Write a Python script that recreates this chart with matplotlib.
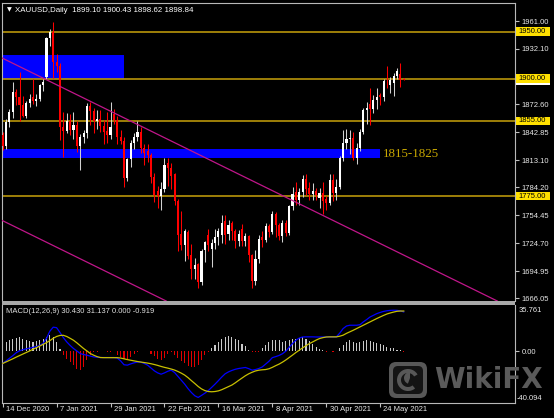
import matplotlib
matplotlib.use("Agg")
import matplotlib.pyplot as plt
import matplotlib.transforms as mtransforms
from matplotlib.patches import Rectangle, FancyBboxPatch, Wedge

# Velas diarias XAUUSD (14 dic 2020 - 2 jun 2021)
opens = [1840, 1828, 1854, 1864, 1886, 1881, 1872, 1860, 1874, 1881,
         1876, 1878, 1893, 1902, 1943, 1950, 1918, 1913, 1849, 1844,
         1855, 1845, 1851, 1828, 1838, 1842, 1871, 1866, 1855, 1857,
         1850, 1844, 1840, 1862, 1856, 1838, 1834, 1794, 1814, 1831,
         1838, 1843, 1826, 1823, 1819, 1795, 1780, 1775, 1782, 1810,
         1805, 1798, 1770, 1735, 1723, 1737, 1712, 1697, 1703, 1683,
         1718, 1734, 1719, 1725, 1731, 1733, 1748, 1735, 1746, 1738,
         1727, 1740, 1727, 1732, 1712, 1685, 1708, 1731, 1728, 1743,
         1737, 1756, 1744, 1732, 1746, 1736, 1764, 1779, 1771, 1779,
         1793, 1784, 1777, 1780, 1773, 1778, 1772, 1768, 1792, 1778,
         1785, 1815, 1831, 1836, 1837, 1815, 1826, 1843, 1867, 1873,
         1868, 1877, 1883, 1880, 1898, 1893, 1895, 1903, 1905, 1899.10]
highs = [1843, 1857, 1868, 1896, 1889, 1907, 1882, 1876, 1884, 1900,
         1884, 1894, 1900, 1944, 1953, 1960, 1926, 1917, 1864, 1863,
         1862, 1865, 1855, 1841, 1845, 1874, 1875, 1869, 1867, 1867,
         1856, 1865, 1875, 1868, 1860, 1845, 1838, 1816, 1835, 1842,
         1855, 1848, 1830, 1830, 1821, 1800, 1786, 1790, 1816, 1816,
         1810, 1800, 1772, 1759, 1740, 1739, 1724, 1709, 1704, 1719,
         1727, 1740, 1729, 1740, 1741, 1755, 1755, 1750, 1748, 1740,
         1739, 1745, 1736, 1733, 1713, 1718, 1733, 1738, 1746, 1745,
         1759, 1758, 1746, 1749, 1750, 1765, 1785, 1790, 1784, 1797,
         1798, 1790, 1789, 1784, 1784, 1790, 1775, 1798, 1799, 1793,
         1818, 1845, 1846, 1845, 1843, 1831, 1846, 1869, 1875, 1890,
         1883, 1890, 1885, 1900, 1913, 1902, 1906, 1911, 1917, 1900.43]
lows = [1824, 1825, 1848, 1858, 1872, 1855, 1859, 1858, 1870, 1873,
        1871, 1876, 1887, 1900, 1935, 1901, 1907, 1835, 1817, 1842,
        1840, 1836, 1822, 1803, 1831, 1837, 1851, 1842, 1846, 1843,
        1830, 1832, 1836, 1852, 1830, 1830, 1785, 1791, 1806, 1825,
        1834, 1821, 1808, 1811, 1789, 1769, 1762, 1760, 1779, 1786,
        1782, 1765, 1716, 1717, 1706, 1708, 1687, 1687, 1677, 1680,
        1705, 1716, 1699, 1719, 1723, 1725, 1724, 1728, 1728, 1720,
        1722, 1722, 1722, 1705, 1677, 1680, 1704, 1721, 1726, 1731,
        1735, 1731, 1728, 1726, 1732, 1734, 1760, 1765, 1765, 1774,
        1776, 1771, 1771, 1771, 1762, 1756, 1760, 1765, 1770, 1771,
        1782, 1812, 1825, 1820, 1813, 1809, 1823, 1841, 1852, 1851,
        1863, 1868, 1872, 1876, 1890, 1885, 1882, 1900, 1891, 1898.62]
closes = [1828, 1854, 1864, 1886, 1881, 1872, 1860, 1874, 1878, 1876,
          1878, 1893, 1896, 1943, 1950, 1918, 1913, 1849, 1844, 1855,
          1845, 1851, 1828, 1838, 1842, 1871, 1866, 1855, 1857, 1850,
          1843, 1840, 1848, 1856, 1838, 1834, 1794, 1814, 1831, 1838,
          1843, 1826, 1821, 1819, 1795, 1776, 1775, 1782, 1808, 1805,
          1796, 1770, 1733, 1723, 1738, 1711, 1697, 1702, 1683, 1716,
          1726, 1723, 1725, 1731, 1738, 1746, 1734, 1744, 1738, 1727,
          1735, 1727, 1732, 1712, 1685, 1708, 1729, 1728, 1743, 1737,
          1756, 1744, 1732, 1746, 1736, 1764, 1777, 1771, 1779, 1793,
          1783, 1777, 1780, 1776, 1778, 1770, 1768, 1792, 1778, 1785,
          1815, 1831, 1836, 1837, 1815, 1826, 1843, 1867, 1869, 1868,
          1877, 1881, 1880, 1898, 1897, 1899, 1903, 1908, 1899, 1898.84]

# MACD(12,26,9): linea principal (azul), senal (amarilla) e histograma
macd_main = [-9.5, -7.5, -5.5, -3.5, -1.2, 0.3, 1.2, 1.8, 2.4, 3.0,
             3.6, 4.5, 6.0, 10.0, 15.5, 18.6, 18.2, 14.5, 10.5, 7.2,
             4.5, 2.1, 0.2, -1.8, -2.6, -3.1, -3.8, -4.4, -4.7, -4.9,
             -4.9, -4.9, -4.9, -4.9, -5.3, -7.5, -10.5, -10.8, -9.8, -9.0,
             -8.4, -8.5, -9.5, -10.8, -13.0, -15.2, -16.8, -17.8, -16.8, -15.5,
             -14.7, -16.5, -19.5, -22.5, -25.5, -29.0, -32.0, -34.5, -35.8, -34.2,
             -32.5, -30.5, -28.0, -25.5, -22.8, -20.0, -17.5, -16.0, -14.9, -14.0,
             -13.4, -13.0, -12.6, -13.5, -14.7, -14.2, -13.4, -12.2, -10.0, -7.8,
             -5.0, -4.2, -3.3, -2.0, 0.0, 3.0, 6.0, 8.5, 10.2, 11.0,
             11.1, 11.1, 11.1, 11.0, 11.0, 11.0, 11.0, 11.0, 11.0, 11.1,
             14.0, 17.5, 19.5, 20.1, 20.1, 20.1, 20.5, 22.7, 24.5, 26.5,
             27.8, 29.1, 30.0, 30.8, 31.3, 31.6, 31.7, 31.6, 31.2, 30.4]
macd_signal = [-9.5, -8.3, -7.1, -5.9, -4.6, -3.4, -2.2, -1.0, 0.2, 1.5,
               2.7, 4.0, 5.3, 6.6, 8.2, 10.0, 11.4, 12.2, 12.3, 11.4,
               10.0, 8.5, 6.5, 4.3, 2.1, 0.2, -1.8, -3.1, -4.2, -4.9,
               -5.0, -5.0, -5.0, -5.0, -5.0, -5.3, -5.9, -6.5, -7.0, -7.5,
               -8.0, -8.4, -8.8, -9.2, -9.7, -10.3, -11.0, -11.8, -12.5, -13.1,
               -13.8, -14.6, -15.7, -17.0, -18.5, -20.5, -22.8, -25.0, -27.3, -29.2,
               -30.5, -31.2, -31.4, -31.2, -30.7, -29.8, -28.6, -27.4, -26.2, -24.5,
               -22.6, -20.8, -19.0, -17.5, -16.3, -15.3, -14.7, -14.4, -14.2, -13.6,
               -12.5, -11.2, -10.0, -8.5, -6.8, -4.9, -3.0, -1.0, 0.8, 2.6,
               4.3, 5.9, 7.2, 8.6, 9.8, 10.5, 11.0, 11.1, 11.1, 11.1,
               11.6, 12.4, 13.8, 15.0, 16.2, 17.5, 18.8, 20.1, 21.4, 22.7,
               24.0, 25.3, 26.5, 27.7, 28.8, 29.6, 30.3, 30.9, 31.1, 31.1]
macd_hist = [6.5, 7.2, 8.5, 9.8, 10.3, 11.1, 9.8, 8.5, 8.0, 7.2,
             8.0, 8.5, 9.8, 11.1, 12.4, 11.1, 7.2, 2.0, -3.1, -5.7,
             -8.2, -10.8, -14.1, -14.7, -12.1, -7.0, -3.1, -0.5, -0.5, 0.3,
             0.3, -0.5, -0.5, 0.2, -3.1, -4.4, -5.7, -6.4, -4.4, -1.8,
             -0.5, 0.2, 0.2, -0.2, -1.8, -3.9, -5.7, -7.0, -4.9, -1.8,
             -0.5, -3.1, -4.9, -7.5, -9.5, -11.3, -12.1, -12.6, -10.8, -7.0,
             -3.1, -0.5, 2.1, 4.6, 7.2, 9.8, 11.1, 11.6, 11.1, 9.8,
             8.5, 5.9, 3.9, 1.3, -0.5, -0.5, -0.8, 2.1, 4.6, 7.2,
             8.5, 9.0, 8.5, 7.2, 8.0, 8.5, 9.3, 9.8, 10.0, 11.1,
             9.8, 8.0, 5.4, 3.3, 1.8, 0.8, -0.3, 0.1, -0.3, 0.3,
             2.1, 4.6, 7.2, 8.5, 7.2, 6.4, 7.2, 8.0, 8.5, 8.0,
             7.2, 6.4, 5.9, 4.6, 3.3, 2.6, 2.1, 1.3, 0.8, -0.9]

date_ticks = [0, 16, 32, 48, 64, 80, 96, 112]
date_labels = ["14 Dec 2020", "7 Jan 2021", "29 Jan 2021", "22 Feb 2021",
               "16 Mar 2021", "8 Apr 2021", "30 Apr 2021", "24 May 2021"]
price_ticks = [1961.00, 1932.10, 1872.60, 1842.85, 1813.10,
               1784.20, 1754.45, 1724.70, 1694.95, 1666.05]
levels = [1950, 1900, 1855, 1775]
zones = [(36, 1900, 1925), (112, 1815, 1825)]   # (barra final, precio bajo, precio alto)
zone_label = "1815-1825"
trend_upper = [(0, 1921.7), (146, 1664.5)]
trend_lower = [(0, 1748.7), (40, 1678.2)]
title = "XAUUSD,Daily  1899.10 1900.43 1898.62 1898.84"
macd_title = "MACD(12,26,9) 30.430 31.137 0.000 -0.919"
last_price = 1898.84

# ---- figura ----
W, H = 554, 418
FONT = "Liberation Sans"
FS = 5.5
fig = plt.figure(figsize=(W / 100, H / 100), dpi=100, facecolor="black")
pix = mtransforms.Affine2D().scale(1 / W, -1 / H).translate(0, 1) + fig.transFigure


def box(x0, y0, x1, y1):
    return [x0 / W, 1 - y1 / H, (x1 - x0) / W, (y1 - y0) / H]


ymin, ymax = 1663.2, 1980.6
ax = fig.add_axes(box(2, 3, 515, 301))
ax2 = fig.add_axes(box(2, 305, 515, 403))
for a in (ax, ax2):
    a.set_facecolor("black")
    a.set_xlim(-0.2, 152.0)
    for s in a.spines.values():
        s.set_color("#b8b8b8")
        s.set_linewidth(0.8)
ax.spines["bottom"].set_visible(False)
ax2.spines["top"].set_visible(False)
ax.set_ylim(ymin, ymax)
ax2.set_ylim(-40.094, 35.761)

x = list(range(len(closes)))

# zonas azules (fondo)
for x1, lo, hi in zones:
    ax.add_patch(Rectangle((-0.2, lo), x1 + 0.2, hi - lo, color="#0000ff", lw=0, zorder=1))
ax.text(zones[1][0] + 0.8, (zones[1][1] + zones[1][2]) / 2, zone_label,
        family="Liberation Serif", fontsize=9.4, color="#c9a800", va="center", ha="left", zorder=5)

# niveles horizontales
for lv in levels:
    ax.axhline(lv, color="#b8960a", lw=1.2, zorder=2)

# velas
up = [c >= o for o, c in zip(opens, closes)]
wick_col = ["#d0d0d0" if u else "#ff0000" for u in up]
body_col = ["#ffffff" if u else "#ff0000" for u in up]
ax.vlines(x, lows, highs, colors=wick_col, lw=0.75, zorder=3)
bottoms = [min(o, c) for o, c in zip(opens, closes)]
heights = [max(abs(c - o), 0.9) for o, c in zip(opens, closes)]
ax.bar(x, heights, bottom=bottoms, width=0.62, color=body_col, lw=0, zorder=4)

# lineas de tendencia (canal)
for p in (trend_upper, trend_lower):
    ax.axline(p[0], p[1], color="#c0168a", lw=0.9, zorder=5)

# eje de precios a la derecha
ax.yaxis.tick_right()
ax.set_yticks(price_ticks)
ax.set_yticklabels(["%.2f" % v for v in price_ticks])
ax.tick_params(axis="y", colors="#c0c0c0", labelcolor="#e8e8e8", length=3, width=0.8,
               pad=1.5, labelsize=FS, labelfontfamily=FONT)
ax.set_xticks([])

# etiquetas de niveles (amarillas) y precio actual (blanca)
ppu = 298 / (ymax - ymin)


def ypx(v):
    return 3 + (ymax - v) * ppu


fig.add_artist(Rectangle((516, ypx(last_price) - 4.2), 34, 9, transform=pix, fc="white", lw=0, zorder=6))
for lv in levels:
    yc = ypx(lv)
    fig.add_artist(Rectangle((516, yc - 4.3), 34, 8.6, transform=pix, fc="#ffe000", lw=0, zorder=7))
    fig.text(518.5, yc, "%.2f" % lv, transform=pix, fontsize=FS, family=FONT, color="black",
             va="center", ha="left", zorder=8)

# MACD
hist_col = ["#c8c8c8" if v >= 0 else "#e00000" for v in macd_hist]
ax2.bar(x, macd_hist, width=0.32, color=hist_col, lw=0, zorder=2)
ax2.plot(x, macd_main, color="#0000ff", lw=0.9, zorder=3)
ax2.plot(x, macd_signal, color="#c8c000", lw=0.9, zorder=3)
ax2.yaxis.tick_right()
ax2.set_yticks([0.0])
ax2.set_yticklabels(["0.00"])
ax2.tick_params(axis="y", colors="#c0c0c0", labelcolor="#e8e8e8", length=3, width=0.8,
                pad=1.5, labelsize=FS, labelfontfamily=FONT)
ax2.set_xticks(date_ticks)
ax2.set_xticklabels([])
ax2.tick_params(axis="x", colors="#c0c0c0", length=3, width=0.8, direction="out")

# separador entre paneles
fig.add_artist(Rectangle((2, 301), 513, 4, transform=pix, fc="#a8a8a8", lw=0, zorder=5))

# marca de agua WikiFX: cuadro redondeado con el aguila y el texto
fig.add_artist(FancyBboxPatch((389, 362), 38, 36, boxstyle="round,pad=0,rounding_size=7",
                              transform=pix, fc="#585858", ec="none", zorder=1))
fig.add_artist(FancyBboxPatch((393, 366), 30, 28, boxstyle="round,pad=0,rounding_size=5",
                              transform=pix, fc="#141414", ec="none", zorder=1))
fig.add_artist(Wedge((408, 380), 11, 50, 330, width=4, transform=pix, fc="#585858", ec="none", zorder=1))
fig.add_artist(Wedge((410, 378), 6, 110, 270, transform=pix, fc="#585858", ec="none", zorder=1))
fig.text(434, 380, "WikiFX", transform=pix, fontsize=20, family="DejaVu Sans", fontweight="bold",
         color="#5a5a5a", va="center", ha="left", zorder=1)

# textos
fig.text(7, 10, "\u25bc", transform=pix, fontsize=4.5, family="DejaVu Sans", color="white",
         va="center", ha="left")
fig.text(15, 10, title, transform=pix, fontsize=5.7, family=FONT, color="white", va="center", ha="left")
fig.text(6, 311.5, macd_title, transform=pix, fontsize=FS, family=FONT, color="#e0e0e0",
         va="center", ha="left")
fig.text(519, 310, "35.761", transform=pix, fontsize=FS, family=FONT, color="#e8e8e8",
         va="center", ha="left", zorder=8)
fig.text(517, 398, "-40.094", transform=pix, fontsize=FS, family=FONT, color="#e8e8e8",
         va="center", ha="left", zorder=8)

date_tr = mtransforms.blended_transform_factory(ax2.transData, fig.transFigure) + \
    mtransforms.ScaledTranslation(3.3 / 100, 0, fig.dpi_scale_trans)
for t, lab in zip(date_ticks, date_labels):
    ax2.text(t, 1 - 409.5 / H, lab, transform=date_tr, fontsize=FS, family=FONT,
             color="#e8e8e8", va="center", ha="left", clip_on=False)

fig.savefig("out.png", dpi=100, facecolor="black")
